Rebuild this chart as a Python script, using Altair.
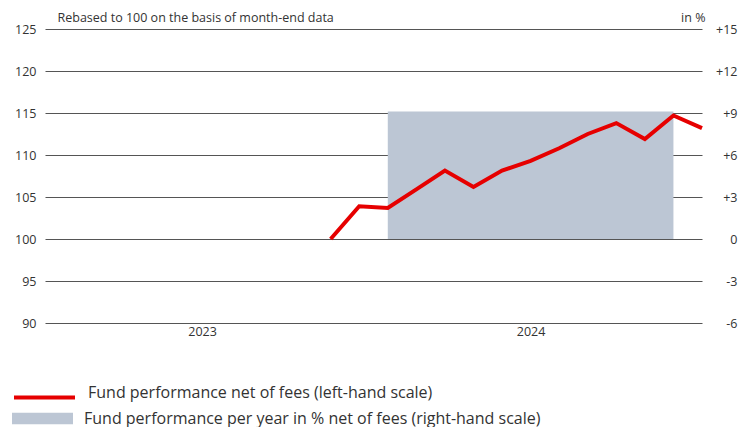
import altair as alt
import pandas as pd

# month-end index, counted from end of January 2023 = 0
month_index = [10, 11, 12, 13, 14, 15, 16, 17, 18, 19, 20, 21, 22, 23]
fund_values = [100.0, 103.9, 103.7, 105.9, 108.15, 106.2, 108.15, 109.3,
               110.8, 112.5, 113.8, 111.9, 114.7, 113.2]

bar_start = [12]
bar_end = [22]
bar_values = [9.1]
bar_base = [0]

year_labels = ["2023", "2024"]
year_positions = [5.5, 17]

left_ticks = [90, 95, 100, 105, 110, 115, 120, 125]
right_ticks = [-6, -3, 0, 3, 6, 9, 12, 15]

line_label = "Fund performance net of fees (left-hand scale)"
bar_label = "Fund performance per year in % net of fees (right-hand scale)"
left_title = "Rebased to 100 on the basis of month-end data"
right_title = "in %"

RED = "#e60000"
GREY = "#bcc6d4"
TEXT = "#333333"
GRID = "#555555"
FONT = "Open Sans"

line_df = pd.DataFrame({"m": month_index, "v": fund_values, "s": line_label})
bar_df = pd.DataFrame({"x": bar_start, "x2": bar_end, "y": bar_values,
                       "y0": bar_base, "s": bar_label})

x_scale = alt.Scale(domain=[0, 23], nice=False, zero=False)

year_expr = " : ".join(
    f"datum.value == {p} ? '{l}'" for p, l in zip(year_positions[:-1], year_labels[:-1])
) + f" : '{year_labels[-1]}'"

x_axis = alt.Axis(values=year_positions, labelExpr=year_expr, grid=False,
                  ticks=False, domain=False, labelPadding=2, title=None,
                  labelFlush=False, labelColor=TEXT)

bars = alt.Chart(bar_df).mark_rect().encode(
    x=alt.X("x:Q", scale=x_scale, axis=x_axis),
    x2="x2:Q",
    y=alt.Y("y:Q",
            scale=alt.Scale(domain=[right_ticks[0], right_ticks[-1]], nice=False, zero=False),
            axis=alt.Axis(orient="right", values=right_ticks, grid=False, ticks=False,
                          domain=False, labelAlign="right", labelPadding=35,
                          labelColor=TEXT,
                          labelExpr="datum.value > 0 ? '+' + datum.value : '' + datum.value",
                          title=right_title, titleAngle=0, titleAlign="right",
                          titleBaseline="alphabetic", titleX=3, titleY=-8)),
    y2="y0:Q",
    fill=alt.Fill("s:N", scale=alt.Scale(domain=[bar_label], range=[GREY]),
                  legend=alt.Legend(orient="none", legendX=-33, legendY=359, title=None,
                                    padding=0, symbolType="M-1,-0.19H1V0.19H-1Z",
                                    symbolSize=3721, symbolStrokeWidth=0,
                                    symbolOpacity=1,
                                    labelFont=FONT, labelFontSize=16, labelColor=TEXT,
                                    labelOffset=11, labelLimit=600)),
)

line = alt.Chart(line_df).mark_line(strokeWidth=4).encode(
    x=alt.X("m:Q", scale=x_scale, axis=x_axis),
    y=alt.Y("v:Q",
            scale=alt.Scale(domain=[left_ticks[0], left_ticks[-1]], nice=False, zero=False),
            axis=alt.Axis(orient="left", values=left_ticks, grid=True, gridColor=GRID,
                          gridWidth=1, gridOpacity=1, ticks=False, domain=False,
                          labelPadding=9, labelColor=TEXT,
                          title=left_title, titleAngle=0, titleAlign="left",
                          titleBaseline="alphabetic", titleX=12, titleY=-8)),
    stroke=alt.Stroke("s:N", scale=alt.Scale(domain=[line_label], range=[RED]),
                      legend=alt.Legend(orient="none", legendX=-33, legendY=331, title=None,
                                        padding=0, symbolType="M-1,0.16H1",
                                        symbolSize=3721, symbolStrokeWidth=4,
                                        symbolStrokeColor=RED, symbolFillColor="transparent",
                                        symbolOpacity=1,
                                        labelFont=FONT, labelFontSize=16, labelColor=TEXT,
                                        labelOffset=11, labelLimit=600)),
)

chart = alt.layer(bars, line).resolve_scale(
    y="independent", fill="independent", stroke="independent"
).properties(
    width=657, height=294,
    autosize=alt.AutoSizeParams(type="none"),
    padding={"left": 37, "top": 21, "right": 38, "bottom": 104},
).configure_view(stroke=None).configure_axis(
    labelFont=FONT, labelFontSize=12.5, labelColor=TEXT,
    titleFont=FONT, titleFontSize=12.5, titleColor=TEXT, titleFontWeight="normal",
)

chart.save("out.html", embed_options={"renderer": "svg", "actions": False})
